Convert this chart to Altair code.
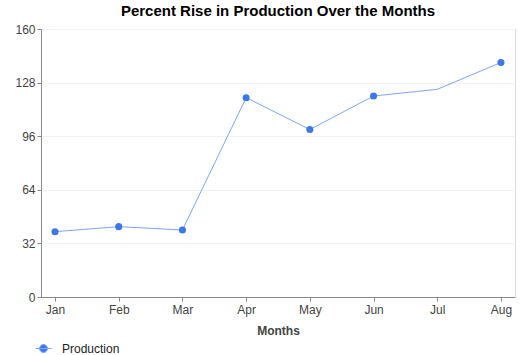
import altair as alt
import pandas as pd

months = ["Jan", "Feb", "Mar", "Apr", "May", "Jun", "Jul", "Aug"]
production = [39, 42, 40, 119, 100, 120, 124, 140]
has_marker = [True, True, True, True, True, True, False, True]
y_ticks = [0, 32, 64, 96, 128, 160]

df = pd.DataFrame({"month": months, "value": production, "marker": has_marker,
                   "series": ["Production"] * len(months)})

FONT = "Liberation Sans"
LINE = "#7ea6f2"
DOT = "#3c78e8"

legend_path = "M-1,0L1,0M-0.5,0A0.5,0.5,0,1,1,0.5,0A0.5,0.5,0,1,1,-0.5,0Z"

x = alt.X("month:N", sort=months, title="Months",
          scale=alt.Scale(type="point", padding=0.22),
          axis=alt.Axis(labelAngle=0, labelFont=FONT, labelFontSize=12, labelColor="#444",
                        titleFont=FONT, titleFontSize=12, titleFontWeight="bold",
                        titleColor="#444", titlePadding=10, domainColor="#888",
                        tickColor="#888", tickSize=4, labelPadding=3, grid=False))
y = alt.Y("value:Q", title=None,
          scale=alt.Scale(domain=[0, 160], nice=False),
          axis=alt.Axis(values=y_ticks, labelFont=FONT, labelFontSize=12, labelColor="#444",
                        domainColor="#888", tickColor="#888", tickSize=4, labelPadding=2,
                        gridColor="#f2f2f2", grid=True))
color = alt.Color("series:N", title=None,
                  scale=alt.Scale(range=[DOT]),
                  legend=alt.Legend(orient="none", legendX=-6, legendY=311,
                                    symbolType=legend_path, symbolSize=256,
                                    symbolFillColor=DOT, symbolStrokeColor=LINE,
                                    symbolStrokeWidth=1, labelFont=FONT,
                                    labelFontSize=12, labelColor="#222", labelOffset=10))

line = alt.Chart(df).mark_line(color=LINE, strokeWidth=1).encode(x=x, y=y)
points = alt.Chart(df).transform_filter("datum.marker").mark_circle(size=50, opacity=1).encode(
    x=x, y=y, color=color)

chart = alt.layer(line, points).properties(
    width=474, height=268,
    title=alt.TitleParams("Percent Rise in Production Over the Months", font=FONT,
                          fontSize=15, fontWeight="bold", color="#000", anchor="middle",
                          offset=4),
    padding={"left": 41, "top": 29, "right": 17, "bottom": 58},
    autosize=alt.AutoSizeParams(type="none"),
).configure_view(stroke=None).configure(background="white")

chart.save("out.html", embed_options={"renderer": "svg", "actions": False})
